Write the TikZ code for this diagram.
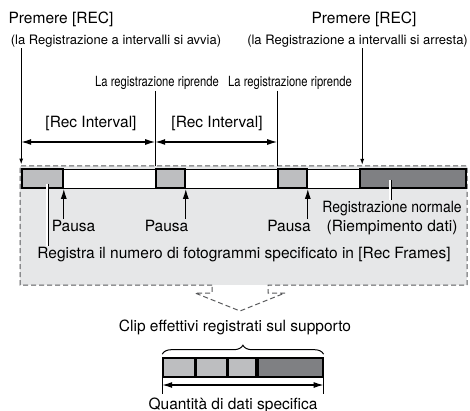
\documentclass[tikz,border=0pt]{standalone}
\usepackage{fontspec}
\setmainfont{TeX Gyre Heros}
\newfontfamily\condfont[FakeStretch=0.8]{TeX Gyre Heros}
\newfontfamily\narrowfont[FakeStretch=0.9]{TeX Gyre Heros}
\usepackage{xcolor}
\usetikzlibrary{arrows.meta,positioning,calc,decorations.pathreplacing}
\definecolor{panelgray}{HTML}{E6E7E8}
\definecolor{clipgray}{HTML}{BDBEC0}
\definecolor{fullgray}{HTML}{7F8083}
\definecolor{dashgray}{HTML}{58595B}

\begin{document}
\begin{tikzpicture}[
    x=1pt, y=-1pt,
    font=\fontsize{15.5}{18}\selectfont,
    >=Latex,
    txt/.style={inner sep=1pt},
    note/.style={font=\fontsize{13}{15}\selectfont,inner sep=1pt},
    resume/.style={font=\condfont\fontsize{14}{16}\selectfont,inner sep=1pt},
    strip/.style={draw,line width=0.8pt,fill=white,minimum height=19pt,
      inner sep=0pt},
    pausebox/.style={draw,line width=1.6pt,fill=clipgray,minimum height=19pt,
      inner sep=0pt},
    fullbox/.style={pausebox,fill=fullgray},
    press/.style={->,line width=1.2pt,>={Latex[length=6pt,width=4pt]}},
    dim/.style={<->,line width=1.2pt,>={Latex[length=10pt,width=6pt]}},
    pausearrow/.style={->,line width=1.2pt,>={Latex[length=10pt,width=6pt]}},
    callout/.style={draw=black,double=white,line width=0.7pt,
      double distance=1.6pt}
  ]
    \useasboundingbox (0,0) rectangle (470,411);

    % REC presses and resume points above the timeline
    \node[txt] (pressA) at (61,19) {Premere [REC]};
    \node[note] (avvia) at (116,41) {(la Registrazione a intervalli si avvia)};
    \node[txt] (pressB) at (364,19) {Premere [REC]};
    \node[note,anchor=east] (arresta) at (469,41)
      {(la Registrazione a intervalli si arresta)};
    \node[resume] (resumeA) at (157,83) {La registrazione riprende};
    \node[resume] (resumeB) at (290,83) {La registrazione riprende};
    \node[txt] (intA) at (91,123) {[Rec Interval]};
    \node[txt] (intB) at (217,123) {[Rec Interval]};

    % dashed panel, its bottom opens into an arrow
    \fill[panelgray] (20,166) rectangle (467,285);
    \draw[dashgray,line width=1pt,dash pattern=on 5pt off 3pt]
      (212,285) -- (20,285) -- (20,166) -- (467,166) -- (467,285)
      -- (268,285) -- (268,293) -- (285,293) -- (240,311)
      -- (195,293) -- (212,293) -- cycle;
    \coordinate (paneltop) at (0,166);
    \coordinate (dimrow) at (0,142);

    % timeline
    \node[strip,minimum width=443pt] (strip) at (243.5,178.5) {};
    \node[pausebox,minimum width=41pt] (p1) at (42.5,178.5) {};
    \node[pausebox,minimum width=29pt] (p2) at (170.5,178.5) {};
    \node[pausebox,minimum width=29pt] (p3) at (292.5,178.5) {};
    \node[fullbox,minimum width=106pt] (full) at (413,178.5) {};

    \coordinate (stopat) at ([xshift=3pt]full.north west);
    \draw[press,shorten >=4pt] (avvia.south -| p1.west) -- (p1.west |- strip.north);
    \draw[press,shorten >=1pt] (arresta.south -| stopat) -- (stopat |- paneltop);
    \draw[line width=1.2pt] (resumeA.south -| p2.west) -- (p2.west |- paneltop);
    \draw[line width=1.2pt] (resumeB.south -| p3.west) -- (p3.west |- paneltop);
    \draw[dim] (p1.west |- dimrow) -- (p2.west |- dimrow);
    \draw[dim] (p2.west |- dimrow) -- (p3.west |- dimrow);

    % labels inside the panel
    \node[txt] (pausaA) at (73.5,226) {Pausa};
    \node[txt] (pausaB) at (166.5,226) {Pausa};
    \node[txt] (pausaC) at (289,226) {Pausa};
    \node[txt,align=center,font=\fontsize{15.5}{19}\selectfont] (normal)
      at (392,218) {{\narrowfont Registrazione normale}\\(Riempimento dati)};
    \node[txt] (frames) at (244,255)
      {Registra il numero di fotogrammi specificato in [Rec Frames]};

    \draw[pausearrow] (pausaA.north -| p1.east) -- (p1.south east);
    \draw[pausearrow] (pausaB.north -| p2.east) -- (p2.south east);
    \draw[pausearrow] (pausaC.north -| p3.east) -- (p3.south east);

    \coordinate (recA) at ([xshift=4.5pt,yshift=5pt]p1.south);
    \coordinate (recB) at ([xshift=-23pt,yshift=9pt]full.south);
    \draw[callout] (recA) -- (recA |- frames.north);
    \draw[callout] (recB) -- (recB |- normal.north);

    % clips on the media
    \node[txt] (clip) at (235,327) {Clip effettivi registrati sul supporto};
    \node[pausebox,minimum width=32pt] (c1) at (179,367.5) {};
    \node[pausebox,minimum width=30pt,right=0pt of c1] (c2) {};
    \node[pausebox,minimum width=28pt,right=0pt of c2] (c3) {};
    \node[fullbox,minimum width=65pt,right=0pt of c3] (c4) {};
    \draw[decorate,decoration={brace,amplitude=9pt},line width=1pt]
      ([yshift=3pt]c1.north west) -- ([yshift=3pt]c4.north east);

    \coordinate (qtyrow) at (0,385);
    \draw[line width=0.8pt] (c1.south west) -- ++(0,16);
    \draw[line width=0.8pt] (c4.south east) -- ++(0,16);
    \draw[dim] (c1.south west |- qtyrow) -- (c4.south east |- qtyrow);
    \node[txt] (qty) at (233,405) {Quantità di dati specifica};
\end{tikzpicture}
\end{document}
